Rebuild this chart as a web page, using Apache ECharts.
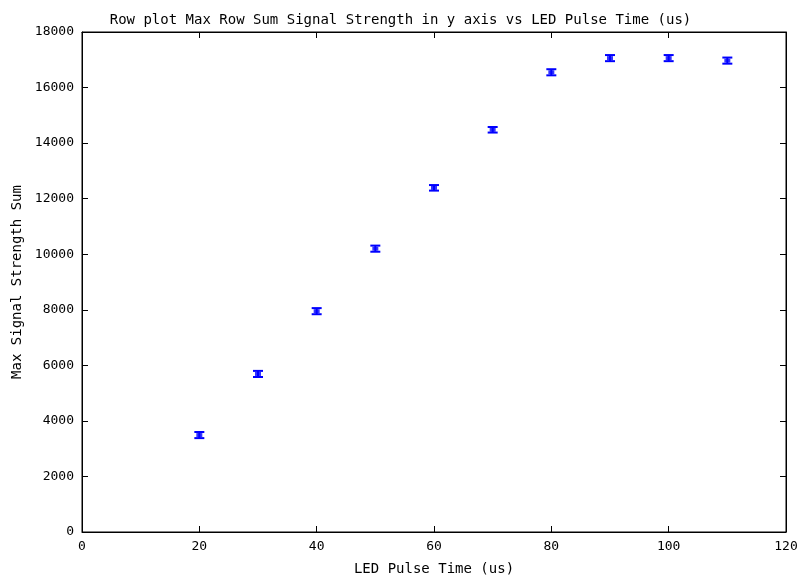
<!DOCTYPE html>
<html>
<head>
<meta charset="utf-8">
<script src="https://cdn.jsdelivr.net/npm/echarts@6/dist/echarts.min.js"></script>
<style>
  html, body { margin: 0; padding: 0; background: #fff; }
  #chart { width: 801px; height: 581px; }
</style>
</head>
<body>
<div id="chart"></div>
<script>
// LED pulse time (us) and measured max row sum, with error half-widths
const pulseTimes = [20, 30, 40, 50, 60, 70, 80, 90, 100, 110];
const signalSum = [3490, 5690, 7950, 10200, 12390, 14480, 16550, 17060, 17060, 16970];
const signalErr = [110, 110, 110, 110, 100, 100, 110, 110, 110, 110];

const font = 'DejaVu Sans Mono';
const blue = '#0000ff';

const chart = echarts.init(document.getElementById('chart'));

const errData = pulseTimes.map((t, i) => [t, signalSum[i] - signalErr[i], signalSum[i] + signalErr[i]]);

function renderErr(params, api) {
    const x = api.value(0);
    const lo = api.coord([x, api.value(1)]);
    const hi = api.coord([x, api.value(2)]);
    const half = 5;
    const style = { stroke: blue, lineWidth: 2 };
    return {
        type: 'group',
        children: [
            { type: 'line', shape: { x1: lo[0], y1: lo[1], x2: hi[0], y2: hi[1] }, style: style },
            { type: 'line', shape: { x1: lo[0] - half, y1: lo[1], x2: lo[0] + half, y2: lo[1] }, style: style },
            { type: 'line', shape: { x1: hi[0] - half, y1: hi[1], x2: hi[0] + half, y2: hi[1] }, style: style }
        ]
    };
}

const axisLine = { show: true, onZero: false, lineStyle: { color: '#000', width: 1 } };
const tickIn = { show: true, inside: true, length: 6, lineStyle: { color: '#000' } };
const plain = v => String(v);

chart.setOption({
    backgroundColor: '#fff',
    animation: false,
    title: {
        text: 'Row plot Max Row Sum Signal Strength in y axis vs LED Pulse Time (us)',
        left: 'center',
        top: 8,
        textStyle: { fontFamily: font, fontSize: 14, fontWeight: 'normal', color: '#000' }
    },
    grid: {
        left: 82, right: 15, top: 32, bottom: 49,
        outerBoundsMode: 'none', containLabel: false,
        show: true, borderColor: '#000', borderWidth: 1
    },
    xAxis: [
        {
            type: 'value', min: 0, max: 120, interval: 20, position: 'bottom',
            name: 'LED Pulse Time (us)', nameLocation: 'middle', nameGap: 30,
            nameTextStyle: { fontFamily: font, fontSize: 14, color: '#000' },
            axisLine: axisLine, axisTick: tickIn,
            axisLabel: { fontFamily: font, fontSize: 13, color: '#000', margin: 8, formatter: plain },
            splitLine: { show: false }
        },
        {
            type: 'value', min: 0, max: 120, interval: 20, position: 'top',
            axisLine: axisLine, axisTick: tickIn,
            axisLabel: { show: false }, splitLine: { show: false }
        }
    ],
    yAxis: [
        {
            type: 'value', min: 0, max: 18000, interval: 2000, position: 'left',
            name: 'Max Signal Strength Sum', nameLocation: 'middle', nameGap: 57,
            nameTextStyle: { fontFamily: font, fontSize: 14, color: '#000' },
            axisLine: axisLine, axisTick: tickIn,
            axisLabel: { fontFamily: font, fontSize: 13, color: '#000', margin: 8, formatter: plain },
            splitLine: { show: false }
        },
        {
            type: 'value', min: 0, max: 18000, interval: 2000, position: 'right',
            axisLine: axisLine, axisTick: tickIn,
            axisLabel: { show: false }, splitLine: { show: false }
        }
    ],
    series: [
        {
            type: 'custom',
            renderItem: renderErr,
            encode: { x: 0, y: [1, 2] },
            data: errData,
            z: 3
        },
        {
            type: 'scatter',
            symbol: 'rect',
            symbolSize: [6, 4],
            itemStyle: { color: blue },
            data: pulseTimes.map((t, i) => [t, signalSum[i]])
        }
    ]
});
</script>
</body>
</html>
